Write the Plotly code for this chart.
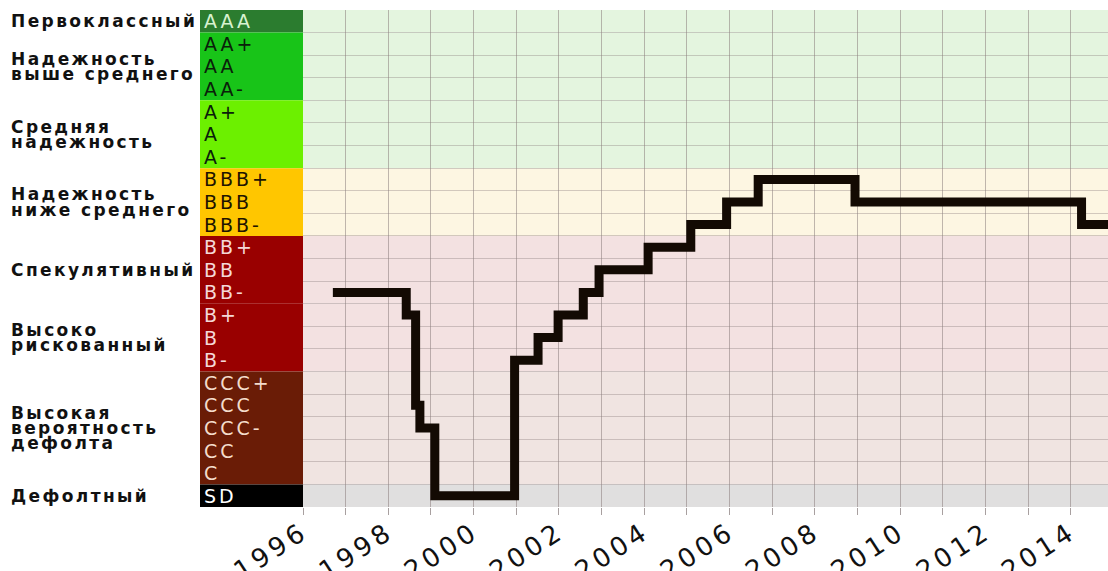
import plotly.graph_objects as go

# Rating scale, top (best) to bottom (default)
scale = ["AAA", "AA+", "AA", "AA-", "A+", "A", "A-",
         "BBB+", "BBB", "BBB-", "BB+", "BB", "BB-",
         "B+", "B", "B-", "CCC+", "CCC", "CCC-", "CC", "C", "SD"]

# Rating history (decimal years)
dates = [1996.70, 1998.42, 1998.64, 1998.74, 1999.09, 2000.96, 2001.51,
         2001.98, 2002.57, 2002.94, 2004.09, 2005.09, 2005.93, 2006.67,
         2008.94, 2014.25, 2015.20]
ratings = ["BB-", "B+", "CCC", "CCC-", "SD", "B-", "B", "B+", "BB-", "BB",
           "BB+", "BBB-", "BBB", "BBB+", "BBB", "BBB-", "BBB-"]

# Rating groups
group_names = [["Первоклассный"], ["Надежность", "выше среднего"],
               ["Средняя", "надежность"], ["Надежность", "ниже среднего"],
               ["Спекулятивный"], ["Высоко", "рискованный"],
               ["Высокая", "вероятность", "дефолта"], ["Дефолтный"]]
group_members = [["AAA"], ["AA+", "AA", "AA-"], ["A+", "A", "A-"],
                 ["BBB+", "BBB", "BBB-"], ["BB+", "BB", "BB-"],
                 ["B+", "B", "B-"], ["CCC+", "CCC", "CCC-", "CC", "C"], ["SD"]]
band_colors = ["#2b7c2f", "#18c418", "#6cf000", "#ffc600",
               "#990000", "#990000", "#6a1c06", "#000000"]
label_colors = ["#d8f2d0", "#0a200a", "#0a200a", "#201400",
                "#f4d8d8", "#f4d8d8", "#f4dccc", "#ffffff"]
bg_colors = ["#e4f5df", "#e4f5df", "#e4f5df", "#fdf6e2",
             "#f3e1e1", "#f3e1e1", "#f0e4e1", "#e0dfdf"]

year_start, year_end = 1996, 2014.87
years = list(range(1996, 2015))

n = len(scale)
def yval(r):
    return n - 1 - scale.index(r)

yv = [yval(r) for r in ratings]

L, W = 303, 1108 - 303
def px_to_paper(px):
    return (px - L) / W

fig = go.Figure()
fig.add_trace(go.Scatter(
    x=dates, y=yv, mode="lines", line=dict(shape="hv", width=9, color="#130a03"),
    hoverinfo="skip", showlegend=False))

shapes = []
annotations = []
for gi, members in enumerate(group_members):
    top = yval(members[0]) + 0.5
    bot = yval(members[-1]) - 0.5
    shapes.append(dict(type="rect", xref="paper", yref="y", x0=0, x1=1, y0=bot, y1=top,
                       fillcolor=bg_colors[gi], line=dict(width=0), layer="below"))
    shapes.append(dict(type="rect", xref="paper", yref="y", x0=px_to_paper(200), x1=0,
                       y0=bot, y1=top, fillcolor=band_colors[gi], line=dict(width=0),
                       layer="above"))
    for m in members:
        annotations.append(dict(
            xref="paper", yref="y", x=px_to_paper(202), y=yval(m), xanchor="left",
            yanchor="middle", showarrow=False,
            text='<span style="letter-spacing:3px">' + m + '</span>',
            font=dict(family="DejaVu Sans", size=19, color=label_colors[gi])))
    center = (top + bot) / 2
    lines = group_names[gi]
    for li, t in enumerate(lines):
        off = (li - (len(lines) - 1) / 2) * 0.68
        annotations.append(dict(
            xref="paper", yref="y", x=px_to_paper(9), y=center - off,
            xanchor="left", yanchor="middle", showarrow=False,
            text='<span style="letter-spacing:2.4px">' + t + '</span>',
            font=dict(family="DejaVu Sans", size=17, color="#111111", weight="bold")))

ticktext = [('<span style="letter-spacing:4px">%d</span>' % y) if (y - 1996) % 2 == 0 else ""
            for y in years]

fig.update_layout(
    width=1108, height=571,
    margin=dict(l=L, r=0, t=10, b=64, pad=0),
    paper_bgcolor="white", plot_bgcolor="white",
    shapes=shapes, annotations=annotations, showlegend=False,
    xaxis=dict(range=[year_start, year_end], tickmode="array", tickvals=years,
               ticktext=ticktext, tickangle=-33, ticks="outside", ticklen=7,
               tickcolor="#a8a0a0", tickwidth=1, ticklabelstandoff=-8,
               showgrid=True, gridcolor="rgba(130,115,115,0.5)", gridwidth=1,
               zeroline=False, showline=False, automargin=False,
               tickfont=dict(family="DejaVu Sans", size=26, color="#111111")),
    yaxis=dict(range=[-0.5, n - 0.5], tickmode="array",
               tickvals=[k - 0.5 for k in range(n + 1)],
               showticklabels=False, ticks="", showgrid=True,
               gridcolor="rgba(140,125,125,0.38)", gridwidth=1,
               zeroline=False, showline=False, automargin=False),
)

fig.write_html("out.html", config={"displayModeBar": False},
               post_script="document.body.style.margin='0';")
